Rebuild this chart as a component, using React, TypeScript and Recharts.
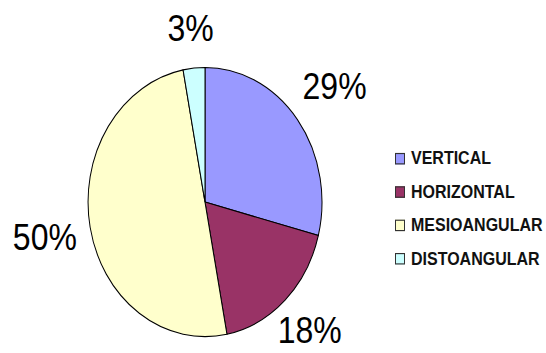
import { Cell, Legend, Pie, PieChart } from 'recharts';

// Share of impacted third molars by angulation (percent)
const categories = ['VERTICAL', 'HORIZONTAL', 'MESIOANGULAR', 'DISTOANGULAR'];
const shares = [29, 18, 50, 3];
const colors = ['#9999FF', '#993366', '#FFFFCC', '#CCFFFF'];
// distance of each percent label outside the rim (px)
const labelGap = [47, 36, 46, 35];

const data = categories.map((name, i) => ({ name, value: shares[i] }));

const RAD = Math.PI / 180;
// the source picture is stretched vertically, so the whole chart is drawn
// round and then scaled on y
const STRETCH = 1.15;
const W = 546;
const H = 306;

function renderLabel(props: any) {
  const { cx, cy, midAngle, outerRadius, value, index } = props;
  const r = outerRadius + labelGap[index];
  const x = cx + r * Math.cos(-midAngle * RAD);
  const y = cy + r * Math.sin(-midAngle * RAD);
  return (
    <text
      x={x}
      y={y}
      textAnchor="middle"
      dominantBaseline="central"
      fill="#000"
      fontSize={32}
      fontFamily="'Liberation Sans', Arial, sans-serif"
    >
      {`${value}%`}
    </text>
  );
}

function renderLegend() {
  return (
    <div>
      {categories.map((name, i) => (
        <div key={name} style={{ display: 'flex', alignItems: 'center', height: 29 }}>
          <span
            style={{
              display: 'inline-block',
              width: 8,
              height: 8,
              background: colors[i],
              border: '1px solid #333',
            }}
          />
          <span
            style={{
              marginLeft: 6,
              fontFamily: "'Liberation Sans', Arial, sans-serif",
              fontWeight: 'bold',
              fontSize: 16,
              color: '#111',
            }}
          >
            {name}
          </span>
        </div>
      ))}
    </div>
  );
}

export default function App() {
  return (
    <div
      style={{
        position: 'absolute',
        left: 0,
        top: 0,
        width: W,
        height: 353,
        overflow: 'hidden',
        background: '#fff',
      }}
    >
      <div style={{ transform: `scaleY(${STRETCH})`, transformOrigin: '0 0' }}>
        <PieChart width={W} height={H} margin={{ top: 0, right: 0, bottom: 0, left: 0 }}>
          <Pie
            data={data}
            dataKey="value"
            nameKey="name"
            cx={205}
            cy={175.7}
            outerRadius={117}
            startAngle={90}
            endAngle={-270}
            stroke="#000"
            strokeWidth={1}
            label={renderLabel}
            labelLine={false}
            isAnimationActive={false}
          >
            {data.map((d, i) => (
              <Cell key={d.name} fill={colors[i]} />
            ))}
          </Pie>
          <Legend
            layout="vertical"
            content={renderLegend}
            wrapperStyle={{ position: 'absolute', left: 395, top: 123, width: 151 }}
          />
        </PieChart>
      </div>
    </div>
  );
}
